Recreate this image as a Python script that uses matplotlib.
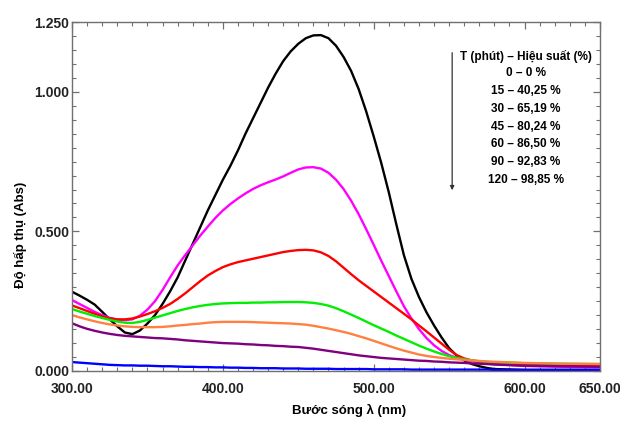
import matplotlib
matplotlib.use("Agg")
import matplotlib.pyplot as plt
from matplotlib.ticker import MultipleLocator, FormatStrFormatter

# wavelength grid (nm): 300-580 every 5 nm, then 600, 625, 650
WAVELENGTH = list(range(300, 585, 5)) + [600, 625, 650]

ABS_0 = [0.284, 0.270, 0.255, 0.238, 0.212, 0.185, 0.160, 0.138, 0.132, 0.145,
         0.170, 0.200, 0.240, 0.285, 0.335, 0.395, 0.455, 0.515, 0.575, 0.630,
         0.685, 0.735, 0.790, 0.850, 0.905, 0.960, 1.015, 1.065, 1.110, 1.145,
         1.172, 1.192, 1.202, 1.203, 1.192, 1.165, 1.125, 1.075, 1.010, 0.930,
         0.840, 0.745, 0.640, 0.525, 0.415, 0.330, 0.265, 0.210, 0.163, 0.120,
         0.082, 0.055, 0.038, 0.025, 0.017, 0.011, 0.007, 0.004, 0.004, 0.004]
ABS_15 = [0.254, 0.240, 0.226, 0.212, 0.200, 0.190, 0.184, 0.182, 0.185, 0.198,
          0.220, 0.250, 0.290, 0.335, 0.378, 0.415, 0.450, 0.485, 0.517, 0.548,
          0.575, 0.598, 0.618, 0.636, 0.652, 0.665, 0.676, 0.686, 0.697, 0.710,
          0.722, 0.729, 0.730, 0.725, 0.710, 0.685, 0.652, 0.610, 0.562, 0.508,
          0.452, 0.395, 0.340, 0.285, 0.232, 0.188, 0.150, 0.118, 0.092, 0.072,
          0.057, 0.047, 0.040, 0.035, 0.031, 0.028, 0.025, 0.018, 0.015, 0.013]
ABS_30 = [0.235, 0.225, 0.215, 0.205, 0.196, 0.189, 0.185, 0.185, 0.188, 0.195,
          0.204, 0.214, 0.226, 0.240, 0.258, 0.278, 0.300, 0.322, 0.342, 0.358,
          0.372, 0.382, 0.390, 0.396, 0.402, 0.408, 0.414, 0.420, 0.426, 0.430,
          0.433, 0.434, 0.432, 0.425, 0.412, 0.393, 0.370, 0.347, 0.325, 0.305,
          0.285, 0.265, 0.245, 0.225, 0.205, 0.185, 0.163, 0.142, 0.120, 0.098,
          0.076, 0.057, 0.045, 0.038, 0.034, 0.031, 0.029, 0.023, 0.020, 0.018]
ABS_45 = [0.222, 0.213, 0.205, 0.197, 0.190, 0.183, 0.177, 0.173, 0.172, 0.176,
          0.183, 0.191, 0.199, 0.207, 0.215, 0.222, 0.228, 0.233, 0.237, 0.240,
          0.242, 0.243, 0.244, 0.244, 0.245, 0.245, 0.246, 0.246, 0.247, 0.247,
          0.247, 0.246, 0.244, 0.240, 0.234, 0.225, 0.214, 0.202, 0.190, 0.177,
          0.164, 0.152, 0.140, 0.127, 0.115, 0.103, 0.091, 0.080, 0.070, 0.061,
          0.053, 0.047, 0.042, 0.038, 0.035, 0.033, 0.031, 0.028, 0.026, 0.025]
ABS_60 = [0.200, 0.192, 0.185, 0.178, 0.172, 0.167, 0.163, 0.160, 0.158, 0.157,
          0.157, 0.157, 0.158, 0.160, 0.163, 0.165, 0.168, 0.170, 0.173, 0.175,
          0.176, 0.176, 0.176, 0.176, 0.175, 0.174, 0.173, 0.172, 0.171, 0.170,
          0.168, 0.166, 0.162, 0.157, 0.152, 0.146, 0.140, 0.133, 0.125, 0.117,
          0.108, 0.099, 0.090, 0.081, 0.073, 0.066, 0.059, 0.054, 0.050, 0.047,
          0.044, 0.042, 0.040, 0.038, 0.036, 0.034, 0.033, 0.029, 0.026, 0.025]
ABS_90 = [0.171, 0.160, 0.151, 0.144, 0.138, 0.133, 0.129, 0.126, 0.124, 0.122,
          0.120, 0.118, 0.117, 0.115, 0.113, 0.110, 0.108, 0.106, 0.104, 0.102,
          0.100, 0.099, 0.098, 0.096, 0.095, 0.093, 0.092, 0.090, 0.089, 0.087,
          0.086, 0.083, 0.080, 0.076, 0.072, 0.068, 0.064, 0.060, 0.056, 0.053,
          0.050, 0.047, 0.045, 0.043, 0.041, 0.039, 0.037, 0.036, 0.034, 0.033,
          0.031, 0.030, 0.029, 0.027, 0.026, 0.025, 0.023, 0.019, 0.017, 0.015]
ABS_120 = [0.032, 0.030, 0.028, 0.026, 0.024, 0.022, 0.021, 0.020, 0.020, 0.019,
           0.019, 0.018, 0.017, 0.017, 0.016, 0.015, 0.015, 0.014, 0.014, 0.013,
           0.013, 0.012, 0.012, 0.011, 0.011, 0.010, 0.010, 0.010, 0.009, 0.009,
           0.009, 0.008, 0.008, 0.008, 0.008, 0.007, 0.007, 0.007, 0.007, 0.007,
           0.006, 0.006, 0.006, 0.006, 0.006, 0.005, 0.005, 0.005, 0.005, 0.005,
           0.005, 0.005, 0.005, 0.005, 0.005, 0.005, 0.004, 0.004, 0.004, 0.004]

SERIES = [ABS_0, ABS_15, ABS_30, ABS_45, ABS_60, ABS_90, ABS_120]
COLORS = ["#000000", "#ff00ff", "#ff0000", "#00ee00", "#ff8040", "#800080", "#0000ff"]

TIMES = ["0", "15", "30", "45", "60", "90", "120"]
YIELDS = ["0", "40,25", "65,19", "80,24", "86,50", "92,83", "98,85"]

plt.rcParams["font.family"] = ["Liberation Sans", "DejaVu Sans"]

fig = plt.figure(figsize=(6.2, 4.25), dpi=100)
ax = fig.add_axes([72 / 620, 54 / 425, 528 / 620, 349 / 425])

for ys, c in zip(SERIES, COLORS):
    ax.plot(WAVELENGTH, ys, color=c, linewidth=1.7,
            solid_joinstyle="round", solid_capstyle="round")

ax.set_xlim(300, 650)
ax.set_ylim(0, 1.25)
ax.set_xticks([300, 400, 500, 600, 650])
ax.xaxis.set_minor_locator(MultipleLocator(10))
ax.set_yticks([0, 0.5, 1.0, 1.25])
ax.yaxis.set_minor_locator(MultipleLocator(0.05))
ax.xaxis.set_major_formatter(FormatStrFormatter("%.2f"))
ax.yaxis.set_major_formatter(FormatStrFormatter("%.3f"))

grey = "#707070"
for s in ax.spines.values():
    s.set_color(grey)
    s.set_linewidth(1.0)
ax.tick_params(which="both", direction="in", top=True, right=True, color=grey)
ax.tick_params(which="major", length=5, width=0.9)
ax.tick_params(which="minor", length=3, width=0.8)
ax.tick_params(axis="x", pad=8)
ax.tick_params(axis="y", pad=2)
for lab in ax.get_xticklabels() + ax.get_yticklabels():
    lab.set_fontsize(10)
    lab.set_fontweight("bold")
    lab.set_color("#222222")

ax.set_xlabel("Bước sóng λ (nm)", fontsize=9.5, fontweight="bold")
ax.set_ylabel("Độ hấp thụ (Abs)", fontsize=9.5, fontweight="bold")
ax.xaxis.set_label_coords(0.525, -0.095)
ax.yaxis.set_label_coords(-0.085, 0.39)

# legend text block with arrow
ax.text(0.86, 0.90, "T (phút) – Hiệu suất (%)", transform=ax.transAxes,
        ha="center", va="center", fontsize=8.5, fontweight="bold")
for i, (t, y) in enumerate(zip(TIMES, YIELDS)):
    ax.text(0.86, 0.853 - i * 0.051, f"{t} – {y} %", transform=ax.transAxes,
            ha="center", va="center", fontsize=8.5, fontweight="bold")
ax.annotate("", xy=(0.72, 0.51), xytext=(0.72, 0.92),
            xycoords="axes fraction", textcoords="axes fraction",
            arrowprops=dict(arrowstyle="-|>", color="#333333", lw=0.9,
                            mutation_scale=6))

fig.savefig("out.png", dpi=100)
